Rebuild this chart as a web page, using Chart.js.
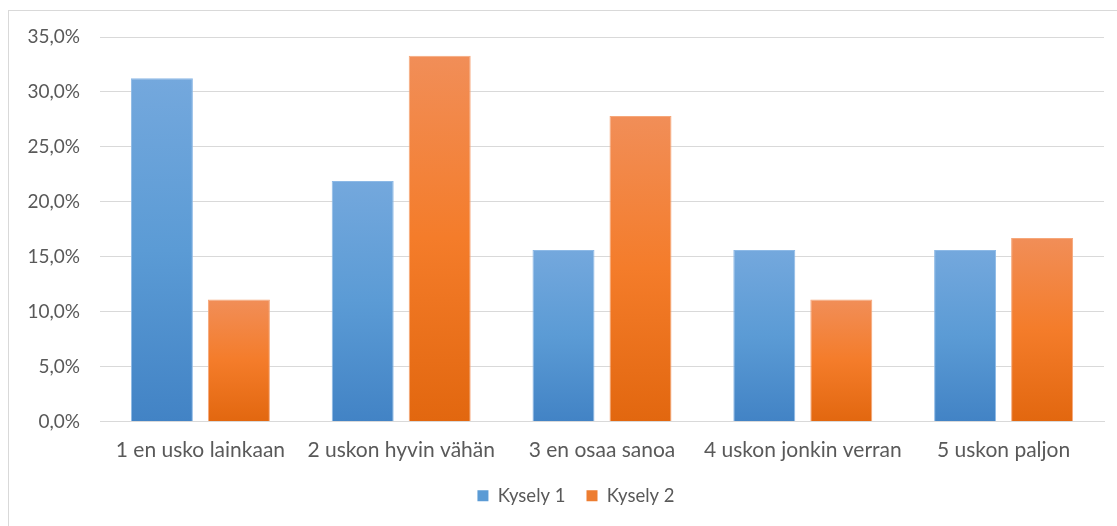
<!DOCTYPE html>
<html>
<head>
<meta charset="utf-8">
<script src="https://cdn.jsdelivr.net/npm/chart.js@4"></script>
<style>
html,body{margin:0;padding:0;background:#fff;}
#wrap{position:absolute;left:0;top:0;width:1117px;height:526px;}
#frame{position:absolute;left:8px;top:10px;width:1200px;height:600px;border-left:1px solid #d9d9d9;border-top:1px solid #d9d9d9;}
canvas{position:absolute;left:0;top:0;}
</style>
</head>
<body>
<div id="wrap">
<div id="frame"></div>
<canvas id="c" width="1117" height="526"></canvas>
</div>
<script>
const categories = ['1 en usko lainkaan', '2 uskon hyvin vähän', '3 en osaa sanoa', '4 uskon jonkin verran', '5 uskon paljon'];
const kysely1 = [31.25, 21.9, 15.6, 15.6, 15.6];
const kysely2 = [11.1, 33.3, 27.8, 11.1, 16.7];
const seriesNames = ['Kysely 1', 'Kysely 2'];
const yTicks = [0, 5, 10, 15, 20, 25, 30, 35];

const FONT = 'Lato, "Noto Sans", sans-serif';
const TEXT = '#595959';

const blueStops = ['#74a8dd', '#5b9bd5', '#4283c5'];
const orangeStops = ['#f18e58', '#f47c2a', '#e2670f'];

function gradFill(stops, solid) {
  return (ctx) => {
    const chart = ctx.chart;
    if (!chart.chartArea || ctx.type !== 'data') return solid;
    const y = chart.scales.y;
    const top = y.getPixelForValue(ctx.raw);
    const bot = y.getPixelForValue(0);
    if (!isFinite(top) || !isFinite(bot) || top === bot) return solid;
    const g = chart.ctx.createLinearGradient(0, top, 0, bot);
    g.addColorStop(0, stops[0]);
    g.addColorStop(0.5, stops[1]);
    g.addColorStop(1, stops[2]);
    return g;
  };
}

const legendShift = {
  id: 'legendShift',
  afterLayout(chart) {
    if (chart.legend) { chart.legend.left += 24; chart.legend.right += 24; }
  }
};

new Chart(document.getElementById('c'), {
  type: 'bar',
  data: {
    labels: categories,
    datasets: [
      { label: seriesNames[0], data: kysely1, backgroundColor: gradFill(blueStops, '#5b9bd5'), borderColor: '#8db9e6', borderWidth: 1, legendColor: '#5b9bd5' },
      { label: seriesNames[1], data: kysely2, backgroundColor: gradFill(orangeStops, '#ed7d31'), borderColor: '#f6a77a', borderWidth: 1, legendColor: '#ed7d31' }
    ]
  },
  plugins: [legendShift],
  options: {
    responsive: false,
    animation: false,
    devicePixelRatio: 1,
    layout: { padding: { top: 37, right: 13, left: 0, bottom: 11 } },
    datasets: { bar: { categoryPercentage: 0.767, barPercentage: 0.805 } },
    scales: {
      x: {
        grid: { display: false, drawTicks: false },
        border: { color: '#d9d9d9', width: 1 },
        ticks: { color: TEXT, font: { family: FONT, size: 21 }, padding: 16, maxRotation: 0 },
        afterFit: (s) => { s.height = 44; }
      },
      y: {
        min: 0, max: 35,
        afterBuildTicks: (s) => { s.ticks = yTicks.map(v => ({ value: v })); },
        grid: { color: '#d9d9d9', lineWidth: 1, drawTicks: false },
        border: { display: false },
        ticks: {
          color: TEXT, font: { family: FONT, size: 19 }, padding: 20,
          callback: (v) => v.toFixed(1).replace('.', ',') + '%'
        },
        afterFit: (s) => { s.width = 100; }
      }
    },
    plugins: {
      tooltip: { enabled: false },
      legend: {
        position: 'bottom',
        labels: {
          color: TEXT, font: { family: FONT, size: 18.5 }, boxWidth: 11, boxHeight: 11, padding: 21,
          generateLabels: (chart) => chart.data.datasets.map((d, i) => ({
            text: d.label, fillStyle: d.legendColor, strokeStyle: d.legendColor, lineWidth: 0,
            fontColor: TEXT, hidden: false, datasetIndex: i
          }))
        }
      }
    }
  }
});
</script>
</body>
</html>
